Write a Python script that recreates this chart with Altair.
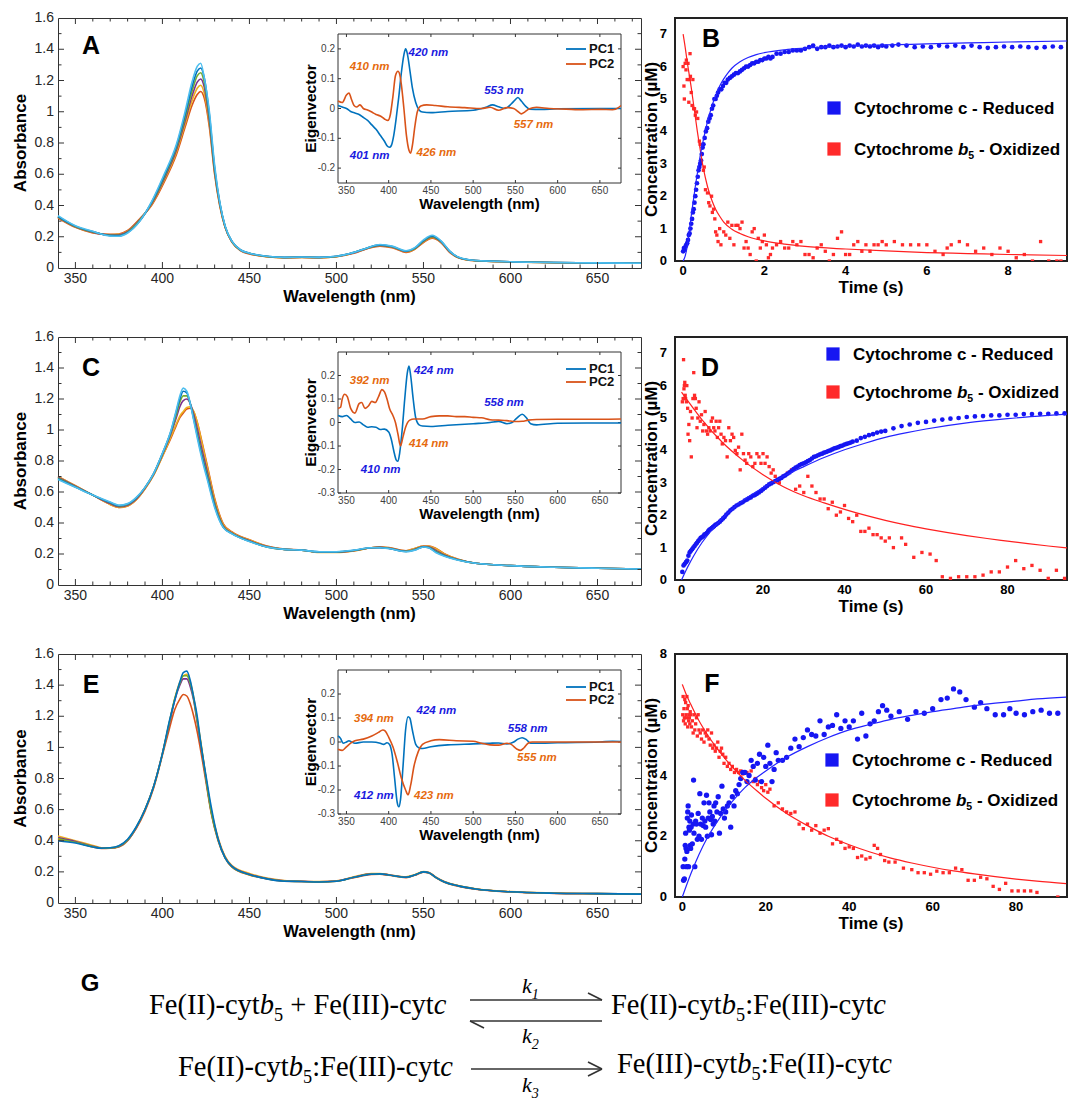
import altair as alt
import pandas as pd

SANS = "Liberation Sans"
SERIF = "Liberation Serif"
MBLUE, MORANGE, MYELLOW, MPURPLE, MGREEN, MCYAN, MRED = (
    "#0072BD", "#D95319", "#EDB120", "#7E2F8E", "#77AC30", "#4DBEEE", "#A2142F")
PT_BLUE = "#1616F2"
PT_RED = "#FF2A2A"
LBL_BLUE = "#1a1ae0"
LBL_ORANGE = "#E66A0E"

# ---------------- Panel A spectra ----------------
wl_A = [340, 350, 360, 370, 375, 380, 387, 394, 401, 408, 413, 417, 420, 422, 424, 427, 430, 433,
        436, 440, 445, 450, 460, 470, 480, 490, 500, 510, 518, 525, 532, 540, 545, 550, 555, 560,
        565, 570, 580, 600, 625, 650, 675]
spec_A = [
    [.32, .26, .225, .215, .218, .24, .315, .405, .55, .725, .90, 1.04, 1.11, 1.13, 1.09, .90, .60, .395,
     .26, .165, .11, .09, .072, .065, .067, .065, .072, .095, .125, .14, .13, .10, .12, .163, .19, .163,
     .10, .066, .046, .039, .034, .032, .03],
    [.324, .262, .227, .213, .215, .236, .31, .41, .56, .74, .92, 1.07, 1.15, 1.17, 1.12, .92, .61, .40,
     .262, .166, .112, .092, .073, .066, .068, .066, .073, .097, .126, .143, .133, .105, .122, .167, .195, .166,
     .105, .067, .046, .039, .034, .032, .03],
    [.326, .264, .229, .211, .212, .233, .308, .415, .57, .755, .94, 1.10, 1.19, 1.21, 1.16, .94, .62, .405,
     .264, .167, .113, .093, .074, .067, .069, .067, .074, .098, .127, .145, .135, .106, .124, .17, .198, .168,
     .106, .068, .047, .04, .035, .033, .03],
    [.328, .266, .231, .209, .209, .23, .305, .42, .58, .77, .96, 1.13, 1.23, 1.25, 1.19, .96, .63, .41,
     .266, .168, .114, .094, .074, .067, .069, .067, .074, .099, .128, .146, .136, .107, .125, .172, .2, .17,
     .107, .068, .047, .04, .035, .033, .03],
    [.33, .268, .233, .207, .206, .227, .30, .425, .59, .78, .98, 1.16, 1.26, 1.28, 1.22, .98, .64, .415,
     .268, .17, .115, .095, .075, .068, .07, .068, .075, .10, .13, .148, .138, .108, .127, .175, .205, .172,
     .108, .069, .048, .04, .035, .033, .03],
    [.335, .27, .235, .205, .203, .224, .30, .43, .60, .79, 1.0, 1.19, 1.29, 1.31, 1.22, 1.0, .66, .42,
     .27, .17, .115, .095, .075, .068, .07, .068, .075, .10, .13, .15, .14, .11, .13, .18, .21, .175,
     .11, .07, .048, .04, .035, .033, .03],
]
colors_A = [MORANGE, MYELLOW, MPURPLE, MGREEN, MBLUE, MCYAN]

pc1_A = [(340, 0.01), (345, 0.005), (350, 0.0), (355, -0.01), (360, -0.015), (365, -0.02), (370, -0.03),
         (375, -0.04), (380, -0.055), (385, -0.07), (390, -0.09), (395, -0.11), (398, -0.125), (401, -0.13),
         (403, -0.125), (406, -0.09), (409, -0.03), (412, 0.04), (415, 0.12), (418, 0.18), (420, 0.2),
         (422, 0.185), (425, 0.13), (428, 0.07), (432, 0.02), (436, -0.005), (440, -0.012), (450, -0.014),
         (470, -0.01), (500, -0.006), (515, 0.004), (523, 0.012), (530, 0.006), (538, 0.0), (545, 0.015),
         (550, 0.03), (553, 0.037), (557, 0.025), (562, 0.008), (567, -0.002), (580, -0.003), (600, -0.001),
         (650, 0.0), (675, 0.0)]
pc2_A = [(340, 0.025), (345, 0.02), (350, 0.045), (353, 0.052), (356, 0.03), (359, 0.01), (362, 0.005),
         (366, 0.012), (370, 0.0), (375, -0.005), (380, -0.012), (385, -0.02), (390, -0.025), (395, -0.035),
         (399, -0.04), (402, -0.02), (405, 0.04), (408, 0.11), (411, 0.125), (413, 0.115), (415, 0.08),
         (418, 0.0), (421, -0.09), (424, -0.14), (426, -0.15), (428, -0.125), (431, -0.06), (434, -0.01),
         (438, 0.008), (445, 0.012), (455, 0.01), (470, 0.006), (490, 0.003), (510, 0.0), (520, 0.004),
         (530, -0.006), (540, 0.003), (548, 0.0), (553, -0.01), (557, -0.018), (561, -0.012), (566, -0.002),
         (575, 0.004), (590, 0.0), (610, -0.002), (630, -0.004), (650, -0.003), (665, -0.004), (672, 0.003),
         (675, 0.01)]
lab_blue_A = [("420 nm", 423.5, 0.187), ("553 nm", 513, 0.059), ("401 nm", 354, -0.16)]
lab_orange_A = [("410 nm", 354, 0.14), ("426 nm", 433, -0.15), ("557 nm", 548, -0.055)]

# ---------------- Panel C spectra ----------------
wl_C = [340, 350, 360, 370, 375, 380, 385, 390, 395, 400, 405, 408, 410, 412, 414, 416, 418, 420,
        423, 426, 430, 435, 440, 450, 460, 470, 480, 490, 500, 510, 520, 525, 530, 540, 545, 550,
        553, 557, 562, 570, 580, 600, 625, 650, 675]
spec_C = [
    [.70, .64, .58, .52, .50, .51, .55, .62, .71, .83, .95, 1.03, 1.08, 1.11, 1.135, 1.14, 1.115, 1.05,
     .91, .76, .56, .395, .342, .292, .252, .232, .226, .211, .211, .221, .24, .246, .241, .221, .236, .251,
     .251, .237, .202, .166, .14, .125, .115, .108, .103],
    [.70, .64, .58, .52, .50, .51, .55, .62, .71, .83, .96, 1.04, 1.09, 1.12, 1.145, 1.15, 1.12, 1.05,
     .90, .75, .55, .39, .34, .29, .25, .23, .225, .21, .21, .22, .24, .245, .24, .22, .235, .25,
     .25, .235, .2, .165, .14, .125, .115, .108, .103],
    [.695, .637, .58, .525, .505, .515, .555, .625, .715, .84, .98, 1.08, 1.15, 1.19, 1.2, 1.17, 1.1, 1.01,
     .86, .72, .53, .38, .335, .285, .248, .23, .225, .212, .212, .222, .24, .243, .238, .218, .23, .248,
     .246, .225, .194, .163, .14, .125, .115, .108, .103],
    [.69, .634, .58, .53, .51, .52, .56, .628, .718, .845, .99, 1.10, 1.18, 1.22, 1.22, 1.17, 1.08, .98,
     .83, .70, .52, .375, .332, .283, .246, .23, .225, .213, .213, .223, .24, .242, .237, .217, .228, .247,
     .243, .218, .19, .162, .14, .125, .115, .108, .103],
    [.685, .632, .58, .532, .512, .522, .562, .63, .72, .848, .995, 1.12, 1.2, 1.25, 1.24, 1.17, 1.07, .965,
     .815, .685, .51, .372, .331, .282, .245, .23, .225, .214, .214, .224, .24, .241, .236, .216, .226, .246,
     .241, .214, .188, .161, .14, .125, .115, .108, .103],
    [.68, .63, .58, .535, .515, .525, .565, .63, .72, .85, 1.0, 1.13, 1.22, 1.27, 1.25, 1.17, 1.06, .95,
     .80, .67, .50, .37, .33, .28, .245, .23, .225, .215, .215, .225, .24, .24, .235, .215, .225, .245,
     .24, .21, .185, .16, .14, .125, .115, .108, .103],
]
colors_C = [MBLUE, MORANGE, MRED, MPURPLE, MGREEN, MCYAN]

pc1_C = [(340, 0.03), (345, 0.025), (350, 0.03), (355, 0.015), (360, 0.0), (365, 0.002), (370, -0.01),
         (375, -0.02), (380, -0.018), (385, -0.02), (390, -0.03), (395, -0.028), (400, -0.04), (403, -0.07),
         (406, -0.12), (409, -0.16), (411, -0.165), (413, -0.13), (416, -0.03), (419, 0.1), (422, 0.21),
         (424, 0.24), (426, 0.2), (429, 0.1), (432, 0.02), (436, -0.01), (440, -0.015), (450, -0.017),
         (470, -0.012), (500, -0.005), (520, 0.0), (530, 0.005), (540, -0.005), (546, 0.0), (552, 0.02),
         (558, 0.035), (563, 0.02), (568, -0.005), (575, -0.01), (600, -0.003), (650, -0.002), (675, -0.002)]
pc2_C = [(340, 0.06), (343, 0.065), (345, 0.1), (348, 0.12), (351, 0.11), (355, 0.06), (360, 0.04),
         (365, 0.08), (368, 0.085), (372, 0.06), (376, 0.07), (380, 0.09), (384, 0.085), (388, 0.11),
         (392, 0.14), (395, 0.13), (398, 0.1), (401, 0.06), (405, 0.03), (408, 0.0), (411, -0.05),
         (414, -0.1), (417, -0.06), (420, -0.02), (425, 0.01), (430, 0.015), (440, 0.015), (450, 0.025),
         (460, 0.028), (470, 0.028), (480, 0.025), (490, 0.025), (500, 0.022), (510, 0.02), (520, 0.012),
         (530, 0.01), (540, 0.008), (550, 0.004), (558, 0.005), (565, 0.01), (575, 0.013), (600, 0.014),
         (625, 0.014), (650, 0.014), (675, 0.015)]
lab_blue_C = [("424 nm", 430, 0.22), ("558 nm", 513, 0.085), ("410 nm", 367, -0.2)]
lab_orange_C = [("392 nm", 354, 0.175), ("414 nm", 424, -0.09)]

# ---------------- Panel E spectra ----------------
wl_E = [340, 350, 360, 365, 370, 375, 380, 385, 390, 395, 400, 404, 407, 410, 412, 414, 416, 418,
        420, 422, 425, 428, 432, 436, 440, 450, 460, 470, 480, 490, 500, 510, 520, 525, 530, 540,
        545, 550, 553, 557, 562, 570, 580, 600, 625, 650, 675]
spec_E = [
    [.41, .39, .36, .35, .352, .365, .405, .48, .59, .74, .95, 1.12, 1.24, 1.31, 1.34, 1.33, 1.28, 1.2,
     1.1, .98, .78, .58, .40, .29, .23, .18, .155, .14, .138, .135, .14, .163, .183, .185, .178, .163,
     .178, .198, .193, .163, .133, .108, .089, .071, .062, .059, .056],
    [.43, .40, .37, .355, .352, .36, .40, .485, .60, .75, .96, 1.16, 1.31, 1.42, 1.46, 1.47, 1.42, 1.32,
     1.18, 1.04, .81, .60, .42, .30, .24, .19, .16, .145, .14, .138, .142, .168, .19, .19, .182, .168,
     .182, .202, .198, .168, .138, .112, .092, .073, .064, .06, .057],
    [.42, .395, .365, .353, .353, .362, .402, .485, .60, .75, .96, 1.15, 1.30, 1.40, 1.44, 1.44, 1.39, 1.30,
     1.16, 1.02, .80, .59, .41, .295, .235, .185, .157, .142, .139, .136, .141, .166, .187, .188, .181, .166,
     .18, .20, .196, .166, .136, .11, .09, .072, .063, .06, .057],
    [.415, .39, .362, .352, .354, .365, .405, .488, .60, .75, .96, 1.16, 1.31, 1.41, 1.46, 1.46, 1.41, 1.31,
     1.17, 1.03, .80, .585, .405, .292, .232, .182, .156, .141, .138, .135, .14, .165, .186, .187, .18, .165,
     .18, .20, .195, .165, .135, .11, .09, .072, .063, .06, .057],
    [.40, .385, .36, .352, .355, .368, .41, .49, .60, .75, .96, 1.17, 1.30, 1.42, 1.48, 1.49, 1.43, 1.32,
     1.2, 1.03, .82, .62, .41, .29, .235, .183, .155, .14, .138, .135, .14, .165, .185, .187, .18, .165,
     .18, .20, .195, .165, .135, .11, .09, .072, .063, .06, .057],
]
colors_E = [MBLUE, MORANGE, MPURPLE, MGREEN, MCYAN]

pc1_E = [(340, 0.025), (343, 0.015), (346, -0.005), (350, 0.0), (353, 0.005), (356, 0.0), (360, -0.005),
         (370, 0.0), (380, 0.0), (390, -0.005), (394, -0.01), (398, -0.003), (401, -0.01), (404, -0.05),
         (407, -0.15), (410, -0.25), (412, -0.27), (414, -0.24), (417, -0.1), (420, 0.05), (423, 0.105),
         (425, 0.1), (428, 0.05), (432, -0.01), (436, -0.025), (440, -0.027), (450, -0.02), (470, -0.012),
         (500, -0.008), (520, -0.005), (530, -0.004), (540, -0.008), (548, 0.0), (553, 0.012), (558, 0.018),
         (563, 0.01), (568, -0.005), (580, -0.005), (600, -0.003), (650, 0.0), (665, 0.003), (675, 0.002)]
pc2_E = [(340, -0.03), (345, -0.035), (350, -0.02), (355, -0.005), (360, 0.005), (370, 0.012), (380, 0.025),
         (388, 0.04), (393, 0.05), (396, 0.045), (400, 0.02), (405, -0.02), (410, -0.08), (415, -0.15),
         (420, -0.2), (423, -0.22), (426, -0.18), (430, -0.1), (435, -0.04), (440, -0.01), (450, 0.005),
         (460, 0.01), (480, 0.005), (500, 0.003), (510, -0.005), (520, -0.012), (530, -0.013), (540, -0.005),
         (545, -0.01), (552, -0.03), (556, -0.035), (560, -0.025), (565, -0.005), (570, 0.0), (600, 0.0),
         (650, 0.0), (675, 0.0)]
lab_blue_E = [("424 nm", 433, 0.128), ("558 nm", 541, 0.056), ("412 nm", 359, -0.226)]
lab_orange_E = [("394 nm", 359, 0.094), ("555 nm", 552, -0.068), ("423 nm", 430, -0.226)]

# ---------------- Panel B kinetics ----------------
blue_B = [(0.00, 0.30), (0.02, 0.40), (0.04, 0.35), (0.06, 0.45), (0.08, 0.50), (0.10, 0.55), (0.12, 0.65),
          (0.14, 0.80), (0.16, 0.85), (0.18, 1.00), (0.20, 1.15), (0.22, 1.30), (0.24, 1.50), (0.26, 1.60),
          (0.28, 1.80), (0.30, 2.00), (0.32, 2.20), (0.34, 2.40), (0.36, 2.60), (0.38, 2.80), (0.40, 2.90),
          (0.42, 3.00), (0.44, 3.10), (0.46, 3.30), (0.48, 3.50), (0.50, 3.60), (0.53, 3.80), (0.56, 4.00),
          (0.59, 4.10), (0.62, 4.30), (0.65, 4.40), (0.68, 4.50), (0.71, 4.70), (0.74, 4.80), (0.77, 5.00),
          (0.80, 5.00), (0.83, 5.10), (0.86, 5.20), (0.90, 5.30), (0.94, 5.30), (0.98, 5.40), (1.02, 5.50),
          (1.06, 5.50), (1.10, 5.60), (1.15, 5.65), (1.20, 5.70), (1.25, 5.75), (1.30, 5.80), (1.35, 5.80),
          (1.40, 5.85), (1.45, 5.90), (1.50, 5.95), (1.55, 6.00), (1.60, 6.00), (1.65, 6.05), (1.70, 6.10),
          (1.75, 6.10), (1.80, 6.15), (1.85, 6.15), (1.90, 6.20), (1.95, 6.20), (2.00, 6.25), (2.05, 6.25),
          (2.10, 6.30), (2.15, 6.25), (2.20, 6.30), (2.30, 6.40), (2.40, 6.40), (2.50, 6.45), (2.60, 6.45),
          (2.70, 6.50), (2.80, 6.50), (2.90, 6.50), (3.00, 6.55), (3.10, 6.60), (3.20, 6.65), (3.30, 6.55),
          (3.40, 6.60), (3.50, 6.60), (3.60, 6.65), (3.70, 6.60), (3.80, 6.62), (3.90, 6.65), (4.00, 6.60),
          (4.10, 6.65), (4.20, 6.62), (4.30, 6.68), (4.40, 6.62), (4.50, 6.65), (4.60, 6.62), (4.70, 6.65),
          (4.80, 6.60), (4.90, 6.65), (5.00, 6.62), (5.15, 6.65), (5.30, 6.68), (5.50, 6.65), (5.70, 6.60),
          (5.90, 6.62), (6.10, 6.60), (6.30, 6.65), (6.50, 6.62), (6.70, 6.65), (6.90, 6.60), (7.10, 6.65),
          (7.30, 6.60), (7.50, 6.58), (7.70, 6.60), (7.90, 6.62), (8.10, 6.60), (8.30, 6.62), (8.50, 6.60),
          (8.70, 6.58), (8.90, 6.60), (9.10, 6.62), (9.30, 6.60)]
red_B = [(0.0, 6.0), (0.02, 5.4), (0.03, 5.0), (0.05, 6.1), (0.07, 5.9), (0.08, 6.2), (0.1, 5.6), (0.12, 6.1),
         (0.14, 4.9), (0.15, 5.6), (0.17, 6.4), (0.18, 5.7), (0.2, 5.2), (0.22, 4.8), (0.24, 5.6), (0.26, 4.7),
         (0.28, 4.7), (0.3, 4.5), (0.33, 4.6), (0.36, 4.4), (0.4, 3.7), (0.42, 3.6), (0.45, 3.1), (0.5, 2.8),
         (0.52, 2.9), (0.55, 2.2), (0.6, 2.1), (0.63, 1.8), (0.66, 1.7), (0.7, 2.0), (0.72, 1.5), (0.75, 1.6),
         (0.78, 1.3), (0.8, 0.9), (0.83, 0.8), (0.86, 0.6), (0.9, 1.0), (0.93, 0.5), (1.0, 0.9), (1.05, 0.8),
         (1.1, 1.2), (1.15, 0.7), (1.2, 1.1), (1.25, 0.5), (1.3, 1.1), (1.35, 1.1), (1.4, 1.0), (1.45, 1.2),
         (1.5, 0.4), (1.55, 0.6), (1.6, 0.4), (1.65, 0.2), (1.7, 0.9), (1.75, 1.0), (1.8, 0.0), (1.85, 0.7),
         (1.9, 0.4), (1.95, 0.6), (2.0, 0.8), (2.05, 0.5), (2.1, 0.1), (2.15, 0.2), (2.2, 0.4), (2.3, 0.5),
         (2.4, 0.6), (2.5, 0.4), (2.6, 0.4), (2.7, 0.6), (2.8, 0.5), (2.9, 0.6), (3.0, 0.2), (3.1, 0.2),
         (3.2, 0.1), (3.3, 0.4), (3.4, 0.5), (3.5, 0.3), (3.6, 0.0), (3.7, 0.2), (3.8, 0.7), (3.9, 0.9),
         (4.0, 0.2), (4.1, 0.2), (4.2, 0.5), (4.3, 0.6), (4.4, 0.3), (4.5, 0.5), (4.6, 0.3), (4.7, 0.5),
         (4.8, 0.5), (4.9, 0.6), (5.0, 0.5), (5.2, 0.6), (5.4, 0.5), (5.6, 0.5), (5.8, 0.5), (6.0, 0.5),
         (6.2, 0.3), (6.4, 0.2), (6.5, 0.4), (6.6, 0.5), (6.8, 0.6), (7.0, 0.5), (7.2, 0.3), (7.4, 0.4),
         (7.6, 0.2), (7.8, 0.4), (8.0, 0.3), (8.2, 0.1), (8.4, 0.2), (8.6, 0.0), (8.8, 0.6), (9.0, 0.0),
         (9.2, 0.0), (9.3, 0.0)]
bfit_B = [(0, 0), (0.05, 0.15), (0.1, 0.45), (0.15, 0.9), (0.2, 1.4), (0.25, 1.85), (0.3, 2.3), (0.35, 2.7),
          (0.4, 3.1), (0.45, 3.45), (0.5, 3.75), (0.6, 4.3), (0.7, 4.75), (0.8, 5.1), (0.9, 5.4), (1.0, 5.62),
          (1.1, 5.8), (1.2, 5.95), (1.4, 6.15), (1.6, 6.28), (1.8, 6.37), (2.0, 6.43), (2.5, 6.52), (3.0, 6.57),
          (4.0, 6.63), (5.0, 6.67), (6.0, 6.7), (7.0, 6.73), (8.0, 6.76), (9.45, 6.79)]
rfit_B = [(0, 7.0), (0.05, 6.6), (0.1, 6.15), (0.15, 5.75), (0.2, 5.35), (0.25, 4.9), (0.3, 4.45), (0.35, 4.0),
          (0.4, 3.6), (0.45, 3.2), (0.5, 2.85), (0.6, 2.3), (0.7, 1.9), (0.8, 1.6), (0.9, 1.38), (1.0, 1.2),
          (1.2, 0.98), (1.4, 0.85), (1.6, 0.75), (2.0, 0.62), (2.5, 0.52), (3.0, 0.45), (4.0, 0.37), (5.0, 0.31),
          (6.0, 0.26), (7.0, 0.23), (8.0, 0.2), (9.45, 0.17)]

# ---------------- Panel D kinetics ----------------
blue_D = [(0.2, .25), (.5, .45), (.8, .5), (1.1, .55), (1.4, .6), (1.7, .75), (2.0, .85), (2.3, .9), (2.6, .95),
          (2.9, 1.0), (3.2, 1.05), (3.5, 1.1), (3.8, 1.15), (4.1, 1.2), (4.4, 1.25), (4.7, 1.3), (5.0, 1.32),
          (5.3, 1.35), (5.6, 1.4), (5.9, 1.42), (6.2, 1.45), (6.5, 1.5), (6.8, 1.55), (7.1, 1.57), (7.4, 1.6),
          (7.7, 1.63), (8.0, 1.66), (8.3, 1.7), (8.6, 1.72), (9.0, 1.76), (9.4, 1.8), (9.8, 1.85), (10.2, 1.9),
          (10.6, 1.95), (11.0, 2.02), (11.5, 2.08), (12.0, 2.15), (12.5, 2.2), (13.0, 2.25), (13.5, 2.3),
          (14.0, 2.33), (14.5, 2.37), (15.0, 2.4), (15.5, 2.45), (16.0, 2.48), (16.5, 2.52), (17.0, 2.55),
          (17.5, 2.6), (18.0, 2.62), (18.5, 2.66), (19.0, 2.7), (19.5, 2.75), (20.0, 2.8), (20.5, 2.85),
          (21.0, 2.9), (21.5, 2.95), (22.0, 2.98), (22.5, 3.02), (23.0, 3.05), (23.5, 3.08), (24.0, 3.12),
          (24.5, 3.15), (25.0, 3.2), (25.5, 3.23), (26.0, 3.28), (26.5, 3.32), (27.0, 3.37), (27.5, 3.42),
          (28.0, 3.47), (28.5, 3.5), (29.0, 3.55), (29.5, 3.58), (30.0, 3.6), (30.5, 3.63), (31.0, 3.67),
          (31.5, 3.7), (32.0, 3.75), (32.5, 3.8), (33.0, 3.82), (33.5, 3.85), (34.0, 3.88), (34.5, 3.9),
          (35.0, 3.93), (35.5, 3.95), (36.0, 3.98), (36.5, 4.0), (37.0, 4.03), (37.5, 4.06), (38.0, 4.08),
          (38.5, 4.1), (39.0, 4.13), (39.5, 4.15), (40.0, 4.18), (40.5, 4.2), (41.0, 4.22), (41.5, 4.24),
          (42.0, 4.27), (43.0, 4.3), (44.0, 4.38), (45.0, 4.42), (46.0, 4.47), (47.0, 4.5), (48.0, 4.55),
          (49.0, 4.58), (50.0, 4.6), (52.0, 4.68), (54.0, 4.75), (56.0, 4.8), (58.0, 4.85), (60.0, 4.88),
          (62.0, 4.92), (64.0, 4.95), (66.0, 4.98), (68.0, 5.0), (70.0, 5.03), (72.0, 5.05), (74.0, 5.06),
          (76.0, 5.08), (78.0, 5.08), (80.0, 5.1), (82.0, 5.1), (84.0, 5.12), (86.0, 5.12), (88.0, 5.13),
          (90.0, 5.13), (92.0, 5.14), (94.0, 5.14)]
red_D = [(0.2, 5.5), (0.4, 5.6), (0.5, 6.8), (0.6, 5.9), (0.7, 6.0), (0.8, 6.1), (0.9, 5.7), (1.0, 5.6),
         (1.2, 5.5), (1.3, 6.0), (1.5, 5.3), (1.6, 4.5), (1.8, 4.8), (2.0, 4.3), (2.2, 5.2), (2.4, 3.8),
         (2.6, 5.0), (2.8, 5.6), (3.0, 6.4), (3.2, 5.7), (3.4, 5.6), (3.6, 5.3), (3.8, 4.7), (4.0, 5.0),
         (4.3, 5.5), (4.6, 4.9), (4.9, 5.1), (5.2, 4.6), (5.5, 4.8), (5.8, 5.2), (6.1, 4.6), (6.4, 4.5),
         (6.7, 4.7), (7.0, 4.6), (7.3, 4.9), (7.6, 5.0), (7.9, 4.7), (8.2, 4.6), (8.5, 4.9), (8.8, 4.4),
         (9.1, 4.7), (9.4, 4.9), (9.7, 4.5), (10.0, 4.2), (10.4, 4.4), (10.8, 4.3), (11.2, 3.8), (11.6, 4.7),
         (12.0, 4.3), (12.4, 4.5), (12.8, 4.4), (13.2, 4.0), (13.6, 3.9), (14.0, 4.1), (14.4, 3.4), (14.8, 4.5),
         (15.2, 3.9), (15.6, 3.7), (16.0, 3.6), (16.5, 3.9), (17.0, 3.8), (17.5, 3.5), (18.0, 3.6), (18.5, 3.9),
         (19.0, 3.8), (19.5, 3.6), (20.0, 3.9), (20.5, 3.6), (21.0, 3.8), (21.5, 3.5), (22.0, 3.3), (22.5, 3.4),
         (23.0, 3.2), (24.0, 3.0), (25.0, 3.2), (26.0, 3.3), (27.0, 3.4), (28.0, 2.8), (29.0, 2.9), (30.0, 2.7),
         (31.0, 3.2), (32.0, 2.9), (33.0, 2.7), (34.0, 2.5), (35.0, 2.5), (36.0, 2.2), (37.0, 2.4), (38.0, 2.0),
         (39.0, 2.1), (40.0, 2.3), (41.0, 1.9), (42.0, 1.8), (43.0, 2.0), (44.0, 1.5), (45.0, 1.5), (46.0, 1.6),
         (47.0, 1.4), (48.0, 1.4), (49.0, 1.3), (50.0, 1.2), (51.0, 1.3), (52.0, 1.0), (54.0, 1.3), (55.0, 1.1),
         (57.0, 0.7), (59.0, 0.85), (61.0, 0.8), (62.5, 0.6), (64.0, 0.1), (66.0, 0.05), (68.0, 0.1),
         (70.0, 0.1), (72.0, 0.1), (74.0, 0.15), (76.0, 0.25), (78.0, 0.25), (80.0, 0.4), (82.0, 0.6),
         (84.0, 0.35), (86.0, 0.45), (88.0, 0.3), (90.0, 0.05), (92.0, 0.3), (94.0, 0.05)]
bfit_D = [(0, 0), (1, 0.27), (2, 0.52), (3, 0.75), (5, 1.15), (7, 1.48), (10, 1.9), (15, 2.45), (20, 2.85),
          (25, 3.2), (30, 3.5), (35, 3.78), (40, 4.02), (45, 4.22), (50, 4.4), (55, 4.54), (60, 4.66),
          (70, 4.85), (80, 4.98), (90, 5.08), (94.6, 5.12)]
rfit_D = [(0, 5.8), (2, 5.45), (5, 4.95), (10, 4.25), (15, 3.7), (20, 3.25), (25, 2.88), (30, 2.6), (35, 2.38),
          (40, 2.18), (45, 2.0), (50, 1.84), (55, 1.7), (60, 1.58), (65, 1.47), (70, 1.37), (75, 1.28),
          (80, 1.2), (85, 1.12), (90, 1.05), (94.6, 0.99)]

# ---------------- Panel F kinetics ----------------
blue_F = [(0.2, 1.0), (0.3, 0.55), (0.5, 0.6), (0.6, 1.25), (0.7, 1.7), (0.8, 2.1), (0.9, 1.6), (1.0, 1.0),
          (1.1, 1.5), (1.2, 2.6), (1.3, 2.8), (1.4, 3.0), (1.5, 1.0), (1.6, 2.3), (1.7, 2.2), (1.8, 2.5),
          (1.9, 1.7), (2.0, 1.6), (2.1, 2.3), (2.2, 2.7), (2.4, 1.75), (2.6, 2.4), (2.7, 3.85), (2.8, 2.1),
          (3.0, 1.0), (3.2, 2.5), (3.4, 2.4), (3.6, 1.9), (3.8, 2.75), (4.0, 2.0), (4.2, 3.4), (4.4, 2.4),
          (4.6, 1.9), (4.8, 2.6), (5.0, 2.35), (5.2, 3.1), (5.4, 2.5), (5.6, 2.3), (5.8, 3.35), (6.0, 2.0),
          (6.2, 2.6), (6.4, 3.1), (6.6, 2.8), (6.8, 2.55), (7.0, 2.05), (7.2, 2.65), (7.4, 2.4), (7.6, 3.0),
          (7.8, 2.5), (8.0, 3.1), (8.3, 2.8), (8.6, 3.3), (8.9, 2.1), (9.2, 2.75), (9.5, 3.65), (9.8, 2.9),
          (10.1, 2.6), (10.4, 2.8), (10.8, 3.0), (11.2, 3.1), (11.6, 2.3), (12.0, 3.3), (12.4, 3.0), (12.8, 3.5),
          (13.2, 3.4), (13.6, 3.7), (14.0, 3.9), (14.5, 4.1), (15.0, 4.1), (15.5, 3.8), (16.0, 4.0), (16.5, 4.5),
          (17.0, 4.3), (17.5, 3.85), (18.0, 4.4), (18.5, 4.7), (19.0, 3.8), (19.5, 4.6), (20.0, 4.3), (20.5, 5.0),
          (21.0, 4.4), (21.5, 3.8), (22.0, 4.2), (22.5, 4.75), (23.0, 4.5), (24.0, 4.5), (25.0, 4.6), (26.0, 4.9),
          (27.0, 5.2), (28.0, 4.95), (29.0, 5.25), (30.0, 5.5), (31.0, 5.35), (32.0, 5.3), (33.0, 5.8),
          (34.0, 5.35), (35.0, 5.6), (36.0, 5.65), (37.0, 6.0), (38.0, 5.55), (39.0, 5.8), (40.0, 5.6),
          (41.0, 5.8), (42.0, 5.2), (43.0, 6.05), (44.0, 5.3), (45.0, 5.7), (46.0, 5.8), (47.0, 6.1),
          (48.0, 6.3), (49.0, 6.15), (50.0, 5.95), (52.0, 6.1), (54.0, 5.85), (56.0, 6.1), (58.0, 6.05),
          (60.0, 6.2), (62.0, 6.5), (63.5, 6.55), (65.0, 6.85), (66.5, 6.75), (68.0, 6.5), (70.0, 6.25),
          (71.5, 6.4), (73.0, 6.2), (75.0, 6.0), (77.0, 6.0), (78.5, 6.2), (80.0, 6.05), (82.0, 6.0),
          (84.0, 6.1), (86.0, 6.15), (88.0, 6.05), (90.0, 6.05)]
red_F = [(0.1, 6.0), (0.2, 6.6), (0.3, 5.8), (0.4, 6.2), (0.5, 5.9), (0.6, 6.5), (0.7, 5.7), (0.8, 6.4),
         (0.9, 6.0), (1.0, 5.9), (1.1, 6.6), (1.2, 6.2), (1.3, 5.6), (1.4, 6.3), (1.5, 5.8), (1.6, 6.0),
         (1.7, 5.9), (1.8, 5.7), (1.9, 6.1), (2.0, 6.0), (2.2, 5.6), (2.4, 5.8), (2.6, 5.4), (2.8, 6.0),
         (3.0, 5.5), (3.2, 5.7), (3.4, 5.9), (3.6, 5.3), (3.8, 6.0), (4.0, 5.5), (4.3, 5.4), (4.6, 5.2),
         (4.9, 5.5), (5.2, 5.1), (5.5, 5.4), (5.8, 5.3), (6.1, 5.5), (6.4, 5.2), (6.7, 5.0), (7.0, 5.4),
         (7.3, 4.9), (7.6, 5.0), (7.9, 4.8), (8.2, 4.9), (8.5, 5.1), (8.8, 4.6), (9.1, 4.8), (9.4, 4.9),
         (9.7, 4.7), (10.0, 4.4), (10.4, 4.6), (10.8, 4.3), (11.2, 4.4), (11.6, 4.2), (12.0, 4.3), (12.5, 4.1),
         (13.0, 4.2), (13.5, 4.1), (14.0, 4.15), (14.5, 4.05), (15.0, 4.1), (15.5, 4.1), (16.0, 4.0),
         (16.5, 4.15), (17.0, 3.8), (17.5, 3.9), (18.0, 3.7), (18.5, 3.8), (19.0, 3.6), (19.5, 3.5),
         (20.0, 3.7), (20.5, 3.45), (21.0, 3.55), (22.0, 3.0), (23.0, 3.1), (24.0, 2.9), (25.0, 2.8),
         (26.0, 2.75), (27.0, 2.8), (28.0, 2.4), (29.0, 2.25), (30.0, 2.4), (31.0, 2.2), (32.0, 2.35),
         (33.0, 2.1), (34.0, 2.2), (35.0, 2.25), (36.0, 1.75), (37.0, 1.9), (38.0, 1.8), (39.0, 1.6),
         (40.0, 1.65), (41.0, 1.6), (42.0, 1.3), (43.0, 1.35), (44.0, 1.25), (45.0, 1.3), (46.0, 1.7),
         (46.8, 1.6), (47.5, 1.4), (48.5, 1.2), (49.5, 1.15), (51.0, 1.15), (53.0, 0.95), (55.0, 0.9),
         (56.5, 0.8), (58.0, 0.8), (59.5, 0.75), (61.0, 0.85), (62.5, 0.8), (64.0, 0.8), (65.5, 0.95),
         (67.0, 0.9), (68.5, 0.55), (70.0, 0.55), (71.5, 0.65), (73.0, 0.6), (74.5, 0.35), (76.0, 0.25),
         (77.5, 0.45), (79.0, 0.2), (80.5, 0.2), (82.0, 0.2), (83.5, 0.2), (85.0, 0.15), (90.0, 0.0)]
bfit_F = [(0, 0), (2, 0.75), (4, 1.4), (6, 1.95), (8, 2.4), (10, 2.8), (12, 3.15), (15, 3.6), (18, 3.95),
          (20, 4.15), (25, 4.6), (30, 4.95), (35, 5.25), (40, 5.5), (45, 5.68), (50, 5.85), (55, 5.98),
          (60, 6.1), (65, 6.2), (70, 6.3), (75, 6.38), (80, 6.45), (85, 6.52), (92, 6.58)]
rfit_F = [(0, 7.0), (1, 6.65), (2, 6.35), (4, 5.8), (6, 5.35), (8, 4.95), (10, 4.6), (12, 4.28), (15, 3.85),
          (18, 3.48), (20, 3.25), (25, 2.75), (30, 2.35), (35, 2.0), (40, 1.72), (45, 1.48), (50, 1.28),
          (55, 1.12), (60, 0.98), (65, 0.86), (70, 0.76), (75, 0.67), (80, 0.59), (85, 0.52), (92, 0.44)]

# ---------------- tick lists ----------------
XT_MAJOR = [350, 400, 450, 500, 550, 600, 650]
XT_MINOR = [v for v in range(350, 675, 10) if v % 50 != 0]
YT_LABELS = [0, 0.2, 0.4, 0.6, 0.8, 1.0, 1.2, 1.4, 1.6]
YT_MAJOR = [0.2, 0.4, 0.6, 0.8, 1.0, 1.2, 1.4]
YT_MINOR = [0.1, 0.3, 0.5, 0.7, 0.9, 1.1, 1.3, 1.5]
INS_XT = [350, 400, 450, 500, 550, 600, 650]

# font metrics (per 1000 em) for placing mixed-style text fragments
TIMES = {'F': 556, 'e': 444, '(': 333, ')': 333, 'I': 333, '-': 333, 'c': 444, 'y': 500, 't': 278,
         'b': 500, '5': 500, ' ': 250, '+': 564, ':': 278, 'k': 444, '1': 500, '2': 500, '3': 500}
ARIALB = {'C': 722, 'y': 556, 't': 333, 'o': 611, 'c': 556, 'h': 611, 'r': 389, 'm': 889, 'e': 556,
          ' ': 278, '-': 333, 'O': 778, 'x': 556, 'i': 278, 'd': 611, 'z': 500, 'R': 722, 'u': 611,
          'b': 611, '5': 556}

W_SPEC = 583
W_KIN = 392
INS_X0, INS_X1 = 280, 563
ONE = pd.DataFrame({"a": [0]})


def fmt(v):
    return f"{v:g}"


def frag_rows(x0, base, pieces, fs, metrics, sub_scale=0.62, sub_drop=0.25):
    rows = []
    x = x0
    for text, kind in pieces:
        sub = "s" in kind
        ital = "i" in kind
        size = fs * sub_scale if sub else fs
        lead = len(text) - len(text.lstrip(" "))
        x += lead * metrics[' '] / 1000 * size
        body = text.lstrip(" ")
        rows.append({"x": x, "y": base + (fs * sub_drop if sub else 0), "text": body, "size": size,
                     "ital": ital})
        x += sum(metrics.get(ch, 500) for ch in body) / 1000 * size
    return rows


def text_layers(rows, font, weight, color):
    df = pd.DataFrame(rows)
    out = []
    for ital in (False, True):
        sub = df[df["ital"] == ital]
        if len(sub) == 0:
            continue
        out.append(alt.Chart(sub).mark_text(
            align="left", baseline="alphabetic", font=font, fontWeight=weight,
            fontStyle="italic" if ital else "normal", color=color).encode(
            x=alt.X("x:Q", scale=None, axis=None),
            y=alt.Y("y:Q", scale=None, axis=None),
            size=alt.Size("size:Q", scale=None, legend=None),
            text="text:N"))
    return out


def single_text(text, x, y, size, weight="bold", angle=0, align="center", color="black", style="normal"):
    return alt.Chart(pd.DataFrame({"t": [text]})).mark_text(
        font=SANS, fontSize=size, fontWeight=weight, fontStyle=style, angle=angle, align=align,
        baseline="middle", color=color).encode(text="t:N", x=alt.value(x), y=alt.value(y))


def x_labels(vals, scale, ypix, size, color, weight="normal"):
    return alt.Chart(pd.DataFrame({"v": vals, "s": [fmt(v) for v in vals]})).mark_text(
        font=SANS, fontSize=size, fontWeight=weight, color=color, align="center", baseline="middle").encode(
        x=alt.X("v:Q", scale=scale, axis=None), y=alt.value(ypix), text="s:N")


def y_labels(vals, scale, xpix, size, color, weight="normal"):
    return alt.Chart(pd.DataFrame({"v": vals, "s": [fmt(v) for v in vals]})).mark_text(
        font=SANS, fontSize=size, fontWeight=weight, color=color, align="right", baseline="middle").encode(
        y=alt.Y("v:Q", scale=scale, axis=None), x=alt.value(xpix), text="s:N")


def spectrum_panel(letter, letter_xy, wl, curves, colors, H, pc1, pc2, lab_blue, lab_orange,
                   ins_dom, ins_ticks, ins_top, ins_bot, leg_y):
    names = [f"c{i + 1}" for i in range(len(curves))]
    df = pd.DataFrame([{"wl": w, "a": a, "curve": n}
                       for n, vals in zip(names, curves) for w, a in zip(wl, vals)])
    xs = alt.Scale(domain=[340, 675], nice=False, zero=False)
    ys = alt.Scale(domain=[0, 1.6], nice=False, zero=False)
    lines = alt.Chart(df).mark_line(strokeWidth=1.6, interpolate="monotone").encode(
        x=alt.X("wl:Q", scale=xs, axis=None),
        y=alt.Y("a:Q", scale=ys, axis=None),
        color=alt.Color("curve:N", scale=alt.Scale(domain=names, range=colors), legend=None),
    )

    def xt(vals, length, at):
        return alt.Chart(pd.DataFrame({"v": vals})).mark_tick(
            size=2 * length, thickness=1, color="#333", clip=True, opacity=1).encode(
            x=alt.X("v:Q", scale=xs, axis=None), y=alt.value(at))

    def yt(vals, length, at):
        return alt.Chart(pd.DataFrame({"v": vals})).mark_tick(
            size=2 * length, thickness=1, color="#333", clip=True, opacity=1).encode(
            y=alt.Y("v:Q", scale=ys, axis=None), x=alt.value(at))

    main_grp = alt.layer(
        lines,
        xt(XT_MAJOR, 6, H), xt(XT_MINOR, 3.5, H), xt(XT_MAJOR, 6, 0), xt(XT_MINOR, 3.5, 0),
        yt(YT_MAJOR, 6, 0), yt(YT_MINOR, 3.5, 0), yt(YT_MAJOR, 6, W_SPEC), yt(YT_MINOR, 3.5, W_SPEC),
        x_labels(XT_MAJOR, xs, H + 11, 14, "#262626"),
        y_labels(YT_LABELS, ys, -4, 14, "#262626"),
        single_text("Wavelength (nm)", W_SPEC / 2, H + 29, 16.5),
        single_text("Absorbance", -37, H / 2, 17, angle=270),
        single_text(letter, letter_xy[0], letter_xy[1], 25),
    )

    # ---- inset ----
    ixs = alt.Scale(domain=[340, 675], range=[INS_X0, INS_X1], nice=False, zero=False)
    iys = alt.Scale(domain=ins_dom, range=[ins_bot, ins_top], nice=False, zero=False)
    frame = alt.Chart(pd.DataFrame({"x": [340], "x2": [675], "y": [ins_dom[0]], "y2": [ins_dom[1]]})).mark_rect(
        fill="white", stroke="#333", strokeWidth=1).encode(
        x=alt.X("x:Q", scale=ixs, axis=None), x2="x2:Q",
        y=alt.Y("y:Q", scale=iys, axis=None), y2="y2:Q")

    tl_y = 3 * (ins_dom[1] - ins_dom[0]) / (ins_bot - ins_top)
    tl_x = 3 * 335 / (INS_X1 - INS_X0)
    trows = []
    for v in INS_XT:
        trows.append((v, v, ins_dom[0], ins_dom[0] + tl_y))
        trows.append((v, v, ins_dom[1], ins_dom[1] - tl_y))
    for v in ins_ticks:
        trows.append((340, 340 + tl_x, v, v))
        trows.append((675, 675 - tl_x, v, v))
    ins_ticks_ch = alt.Chart(pd.DataFrame(trows, columns=["x", "x2", "y", "y2"])).mark_rule(
        color="#333", strokeWidth=1).encode(
        x=alt.X("x:Q", scale=ixs, axis=None), x2="x2:Q",
        y=alt.Y("y:Q", scale=iys, axis=None), y2="y2:Q")

    def pcline(data, color):
        return alt.Chart(pd.DataFrame(data, columns=["wl", "v"])).mark_line(
            color=color, strokeWidth=1.6, interpolate="monotone").encode(
            x=alt.X("wl:Q", scale=ixs, axis=None), y=alt.Y("v:Q", scale=iys, axis=None))

    def labels(data, color):
        return alt.Chart(pd.DataFrame(data, columns=["t", "wl", "v"])).mark_text(
            align="left", baseline="middle", font=SANS, fontSize=11.5, fontWeight="bold",
            fontStyle="italic", color=color).encode(
            x=alt.X("wl:Q", scale=ixs, axis=None), y=alt.Y("v:Q", scale=iys, axis=None), text="t:N")

    leg = []
    for name, col, yy in (("PC1", MBLUE, leg_y[0]), ("PC2", MORANGE, leg_y[1])):
        leg.append(alt.Chart(ONE).mark_rule(color=col, strokeWidth=1.8).encode(
            x=alt.value(508), x2=alt.value(528), y=alt.value(yy)))
        leg.append(single_text(name, 531, yy, 13, align="left", color="#111"))

    ins_grp = alt.layer(
        frame, ins_ticks_ch, pcline(pc1, MBLUE), pcline(pc2, MORANGE),
        labels(lab_blue, LBL_BLUE), labels(lab_orange, LBL_ORANGE),
        x_labels(INS_XT, ixs, ins_bot + 8, 10, "#404040"),
        y_labels(ins_ticks, iys, INS_X0 - 3, 10, "#404040"),
        single_text("Wavelength (nm)", (INS_X0 + INS_X1) / 2, ins_bot + 21, 15),
        single_text("Eigenvector", INS_X0 - 27, (ins_top + ins_bot) / 2, 15.5, angle=270),
        *leg)

    return alt.layer(main_grp, ins_grp).resolve_scale(x="independent", y="independent").properties(
        width=W_SPEC, height=H, view=alt.ViewBackground(stroke="#333", strokeWidth=1))


def kin_panel(letter, letter_xy, blue_pts, red_pts, blue_fit, red_fit, xdom, ydom, xticks, yticks, H,
              leg_x, leg_y, text_x, bsize):
    xs = alt.Scale(domain=xdom, nice=False, zero=False)
    ys = alt.Scale(domain=ydom, nice=False, zero=False)
    rp = alt.Chart(pd.DataFrame(red_pts, columns=["t", "v"])).mark_square(
        size=11, color=PT_RED, opacity=1, clip=True).encode(
        x=alt.X("t:Q", scale=xs, axis=None), y=alt.Y("v:Q", scale=ys, axis=None))
    bp = alt.Chart(pd.DataFrame(blue_pts, columns=["t", "v"])).mark_circle(
        size=bsize, color=PT_BLUE, opacity=1, clip=True).encode(
        x=alt.X("t:Q", scale=xs, axis=None), y=alt.Y("v:Q", scale=ys, axis=None))
    bf = alt.Chart(pd.DataFrame(blue_fit, columns=["t", "v"])).mark_line(
        color="#2424ff", strokeWidth=1.2, interpolate="monotone", clip=True).encode(
        x=alt.X("t:Q", scale=xs, axis=None), y=alt.Y("v:Q", scale=ys, axis=None))
    rf = alt.Chart(pd.DataFrame(red_fit, columns=["t", "v"])).mark_line(
        color="#ff2020", strokeWidth=1.2, interpolate="monotone", clip=True).encode(
        x=alt.X("t:Q", scale=xs, axis=None), y=alt.Y("v:Q", scale=ys, axis=None))
    sq1 = alt.Chart(ONE).mark_square(size=175, color=PT_BLUE, opacity=1).encode(
        x=alt.value(leg_x), y=alt.value(leg_y[0]))
    sq2 = alt.Chart(ONE).mark_square(size=175, color=PT_RED, opacity=1).encode(
        x=alt.value(leg_x), y=alt.value(leg_y[1]))
    rows = frag_rows(text_x, leg_y[0] + 6, [("Cytochrome c - Reduced", "n")], 17, ARIALB)
    rows += frag_rows(text_x, leg_y[1] + 6,
                      [("Cytochrome ", "n"), ("b", "i"), ("5", "s"), (" - Oxidized", "n")], 17, ARIALB)
    txt = text_layers(rows, SANS, "bold", "black")
    return alt.layer(
        rp, bp, rf, bf, sq1, sq2, *txt,
        x_labels(xticks, xs, H + 10, 13, "black", "bold"),
        y_labels(yticks, ys, -8, 13, "black", "bold"),
        single_text("Time (s)", W_KIN / 2, H + 27, 17),
        single_text("Concentration (µM)", -23, H / 2, 17, angle=270),
        single_text(letter, letter_xy[0], letter_xy[1], 25),
    ).properties(width=W_KIN, height=H, view=alt.ViewBackground(stroke="#222", strokeWidth=2))


panel_A = spectrum_panel("A", (33, 28), wl_A, spec_A, colors_A, 250, pc1_A, pc2_A, lab_blue_A, lab_orange_A,
                         [-0.25, 0.25], [-0.2, -0.1, 0, 0.1, 0.2], 16, 165, (31, 46))
panel_C = spectrum_panel("C", (33, 31), wl_C, spec_C, colors_C, 248, pc1_C, pc2_C, lab_blue_C, lab_orange_C,
                         [-0.3, 0.3], [-0.3, -0.2, -0.1, 0, 0.1, 0.2], 15, 156, (32, 45))
panel_E = spectrum_panel("E", (33, 31), wl_E, spec_E, colors_E, 249, pc1_E, pc2_E, lab_blue_E, lab_orange_E,
                         [-0.3, 0.3], [-0.3, -0.2, -0.1, 0, 0.1, 0.2], 16, 160, (33, 46))

panel_B = kin_panel("B", (36, 21), blue_B, red_B, bfit_B, rfit_B, [-0.2, 9.45], [0, 7.5],
                    [0, 2, 4, 6, 8], [0, 1, 2, 3, 4, 5, 6, 7], 243, 159, (90, 131), 179, 22)
panel_D = kin_panel("D", (35, 31), blue_D, red_D, bfit_D, rfit_D, [-1.6, 94.6], [0, 7.5],
                    [0, 20, 40, 60, 80], [0, 1, 2, 3, 4, 5, 6, 7], 243, 158, (17, 55), 178, 22)
panel_F = kin_panel("F", (37, 30), blue_F, red_F, bfit_F, rfit_F, [-1.75, 92.2], [0, 8],
                    [0, 20, 40, 60, 80], [0, 2, 4, 6, 8], 243, 157, (106, 146), 177, 28)

# ---------------- G: reaction scheme ----------------
GX = 59  # left edge of the scheme panel in the figure
FS = 28.5
g_rows = []
g_rows += frag_rows(150 - GX, 72, [("Fe(II)-cyt", "n"), ("b", "i"), ("5", "s"), (" + Fe(III)-cyt", "n"),
                                   ("c", "i")], FS, TIMES, 0.64, 0.25)
g_rows += frag_rows(612 - GX, 72, [("Fe(II)-cyt", "n"), ("b", "i"), ("5", "s"), (":Fe(III)-cyt", "n"),
                                   ("c", "i")], FS, TIMES, 0.64, 0.25)
g_rows += frag_rows(179 - GX, 134, [("Fe(II)-cyt", "n"), ("b", "i"), ("5", "s"), (":Fe(III)-cyt", "n"),
                                    ("c", "i")], FS, TIMES, 0.64, 0.25)
g_rows += frag_rows(618 - GX, 131, [("Fe(III)-cyt", "n"), ("b", "i"), ("5", "s"), (":Fe(II)-cyt", "n"),
                                    ("c", "i")], FS, TIMES, 0.64, 0.25)
g_rows += frag_rows(523 - GX, 51, [("k", "i"), ("1", "si")], 22, TIMES, 0.64, 0.25)
g_rows += frag_rows(523 - GX, 101, [("k", "i"), ("2", "si")], 22, TIMES, 0.64, 0.25)
g_rows += frag_rows(523 - GX, 150, [("k", "i"), ("3", "si")], 22, TIMES, 0.64, 0.25)
g_text = text_layers(g_rows, SERIF, "normal", "black")

arrow_segs = pd.DataFrame(
    [(471, 58, 603, 58), (603, 58, 589, 51),
     (471, 79, 603, 79), (471, 79, 485, 86),
     (472, 127, 603, 127), (603, 127, 589, 120), (603, 127, 589, 134)],
    columns=["x", "y", "x2", "y2"])
arrow_segs[["x", "x2"]] = arrow_segs[["x", "x2"]] - GX
g_arrows = alt.Chart(arrow_segs).mark_rule(color="#333", strokeWidth=1.6).encode(
    x=alt.X("x:Q", scale=None, axis=None), y=alt.Y("y:Q", scale=None, axis=None),
    x2="x2:Q", y2="y2:Q")
panel_G = alt.layer(g_arrows, *g_text, single_text("G", 91 - GX, 42, 24)).properties(
    width=950, height=156, view=alt.ViewBackground(stroke="transparent"))

row1 = alt.hconcat(panel_A, panel_B, spacing=34, bounds="flush")
row2 = alt.hconcat(panel_C, panel_D, spacing=34, bounds="flush")
row3 = alt.hconcat(panel_E, panel_F, spacing=34, bounds="flush")
rows = alt.vconcat(row1, row2, row3, spacing=23)
chart = alt.vconcat(rows, panel_G, spacing=0).properties(
    padding={"left": 11, "top": 10, "right": 0, "bottom": 0}, background="white"
).configure(font=SANS)

chart.save("out.html", embed_options={"renderer": "svg", "actions": False})
